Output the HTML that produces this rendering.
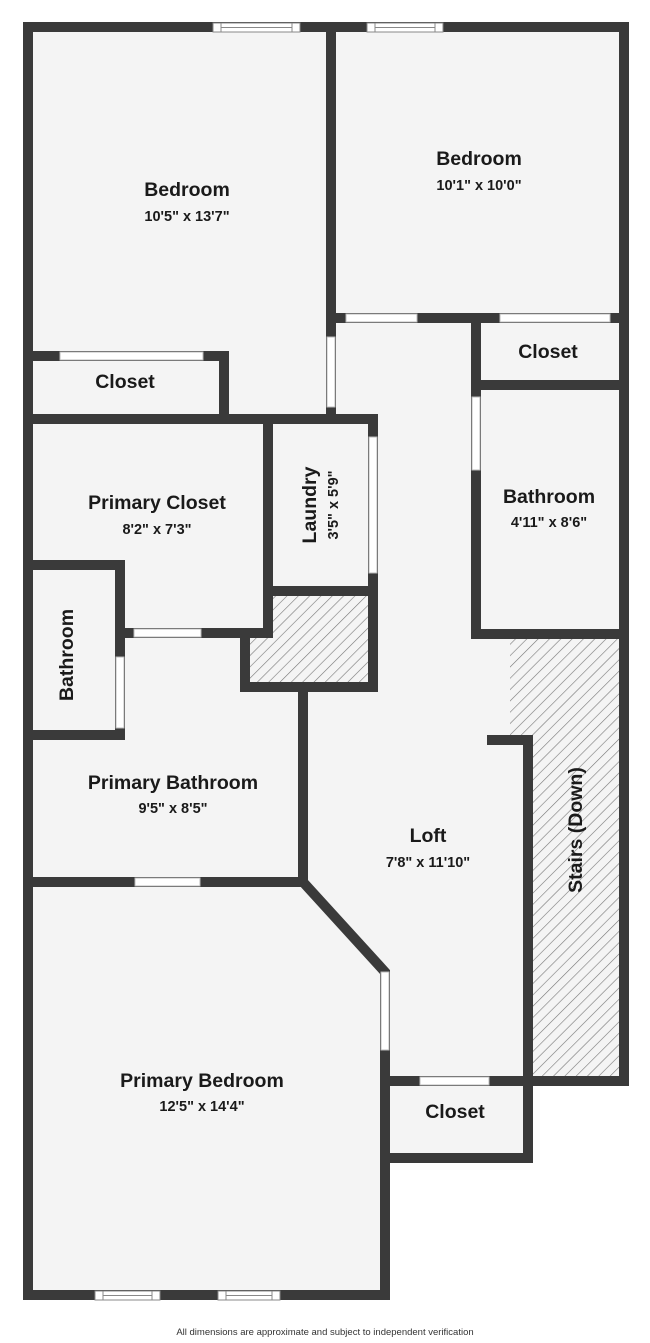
<!DOCTYPE html>
<html><head><meta charset="utf-8"><style>
html,body{margin:0;padding:0;background:#fff;}
svg{display:block;}
text{font-family:"Liberation Sans",sans-serif;fill:#1a1a1a;text-anchor:middle;}
.n{font-size:19.5px;font-weight:bold;}
.d{font-size:14.5px;font-weight:bold;}
</style></head><body>
<svg width="650" height="1343" viewBox="0 0 650 1343" xmlns="http://www.w3.org/2000/svg">
<defs>
<pattern id="h" patternUnits="userSpaceOnUse" width="8" height="8" patternTransform="rotate(45)">
<rect width="8" height="8" fill="#f4f4f4"/><line x1="0" y1="0" x2="0" y2="8" stroke="#777" stroke-width="1.2"/>
</pattern>
</defs>
<polygon points="28,27 624,27 624,1081 528,1081 528,1158 385,1158 385,1295 28,1295" fill="#f4f4f4"/>
<polygon points="268,591 373,591 373,687 245,687 245,633 268,633" fill="url(#h)"/>
<polygon points="510,634 624,634 624,1081 528,1081 528,740 510,740" fill="url(#h)"/>
<g stroke="#3a3a3a" stroke-width="10" fill="none" stroke-linecap="square" stroke-linejoin="miter">
<polyline points="28,27 624,27 624,1081 528,1081"/>
<polyline points="528,740 528,1158 385,1158"/>
<polyline points="28,27 28,1295 385,1295 385,972 303,882 303,687"/>
<line x1="303" y1="882" x2="28" y2="882"/>
<line x1="331" y1="27" x2="331" y2="419"/>
<line x1="331" y1="318" x2="624" y2="318"/>
<line x1="28" y1="356" x2="224" y2="356"/>
<line x1="224" y1="356" x2="224" y2="419"/>
<polyline points="28,419 373,419 373,687 245,687 245,633"/>
<line x1="268" y1="419" x2="268" y2="633"/>
<line x1="268" y1="591" x2="373" y2="591"/>
<line x1="120" y1="633" x2="268" y2="633"/>
<polyline points="28,565 120,565 120,735 28,735"/>
<line x1="476" y1="318" x2="476" y2="634"/>
<line x1="476" y1="385" x2="624" y2="385"/>
<line x1="476" y1="634" x2="624" y2="634"/>
<line x1="492" y1="740" x2="528" y2="740"/>
<line x1="385" y1="1081" x2="528" y2="1081"/>
</g>
<g fill="#fff" stroke="#bbb" stroke-width="1">
<rect x="346" y="314" width="71" height="8"/>
<rect x="500" y="314" width="110" height="8"/>
<rect x="327" y="337" width="8" height="70"/>
<rect x="60" y="352" width="143" height="8"/>
<rect x="369" y="437" width="8" height="136"/>
<rect x="134" y="629" width="67" height="8"/>
<rect x="116" y="657" width="8" height="71"/>
<rect x="472" y="397" width="8" height="73"/>
<rect x="135" y="878" width="65" height="8"/>
<rect x="381" y="972" width="8" height="78"/>
<rect x="420" y="1077" width="69" height="8"/>
</g>
<g fill="#fff" stroke="#888" stroke-width="1">
<rect x="213" y="23" width="87" height="9"/><line x1="221" y1="27.5" x2="292" y2="27.5"/><line x1="221" y1="23" x2="221" y2="32"/><line x1="292" y1="23" x2="292" y2="32"/>
<rect x="367" y="23" width="76" height="9"/><line x1="375" y1="27.5" x2="435" y2="27.5"/><line x1="375" y1="23" x2="375" y2="32"/><line x1="435" y1="23" x2="435" y2="32"/>
<rect x="95" y="1291" width="65" height="9"/><line x1="103" y1="1295.5" x2="152" y2="1295.5"/><line x1="103" y1="1291" x2="103" y2="1300"/><line x1="152" y1="1291" x2="152" y2="1300"/>
<rect x="218" y="1291" width="62" height="9"/><line x1="226" y1="1295.5" x2="272" y2="1295.5"/><line x1="226" y1="1291" x2="226" y2="1300"/><line x1="272" y1="1291" x2="272" y2="1300"/>
</g>
<text class="n" x="187" y="196">Bedroom</text><text class="d" x="187" y="221">10'5" x 13'7"</text>
<text class="n" x="479" y="165">Bedroom</text><text class="d" x="479" y="190">10'1" x 10'0"</text>
<text class="n" x="125" y="388">Closet</text>
<text class="n" x="548" y="358">Closet</text>
<text class="n" x="157" y="509">Primary Closet</text><text class="d" x="157" y="534">8'2" x 7'3"</text>
<text class="n" transform="translate(316,505) rotate(-90)">Laundry</text>
<text class="d" transform="translate(338,505) rotate(-90)">3'5" x 5'9"</text>
<text class="n" x="549" y="503">Bathroom</text><text class="d" x="549" y="527">4'11" x 8'6"</text>
<text class="n" transform="translate(73,655) rotate(-90)">Bathroom</text>
<text class="n" x="173" y="789">Primary Bathroom</text><text class="d" x="173" y="813">9'5" x 8'5"</text>
<text class="n" x="428" y="842">Loft</text><text class="d" x="428" y="867">7'8" x 11'10"</text>
<text class="n" transform="translate(582,830) rotate(-90)">Stairs (Down)</text>
<text class="n" x="202" y="1087">Primary Bedroom</text><text class="d" x="202" y="1111">12'5" x 14'4"</text>
<text class="n" x="455" y="1118">Closet</text>
<text x="325" y="1335" style="font-size:9.5px;fill:#333">All dimensions are approximate and subject to independent verification</text>
</svg>
</body></html>
